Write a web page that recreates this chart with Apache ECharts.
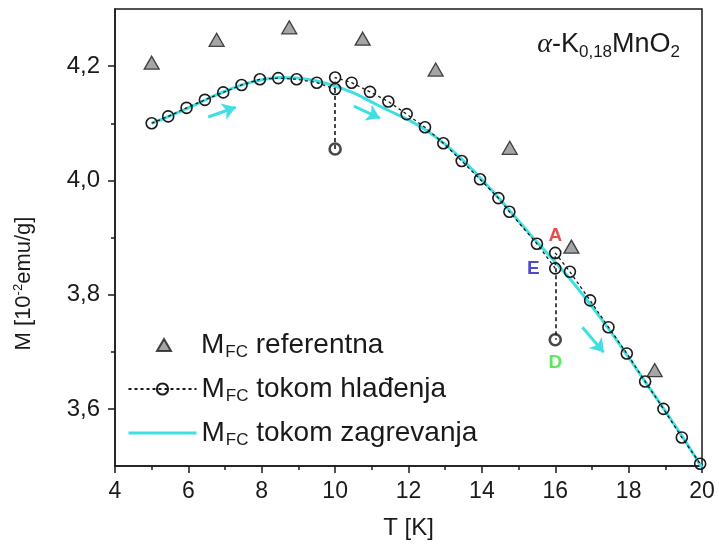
<!DOCTYPE html>
<html>
<head>
<meta charset="utf-8">
<script src="https://cdn.jsdelivr.net/npm/echarts@6/dist/echarts.min.js"></script>
<style>
  html, body { margin: 0; padding: 0; background: #fff; }
  #chart { width: 719px; height: 548px; }
</style>
</head>
<body>
<div id="chart"></div>
<script>
// Magnetization of alpha-K0.18MnO2 in field-cooled mode (M in 10^-2 emu/g, T in K)

// reference FC curve (triangles)
const refT = [5.0, 6.77, 8.75, 10.75, 12.74, 14.76, 16.44, 18.71];
const refM = [4.206, 4.246, 4.268, 4.248, 4.194, 4.057, 3.884, 3.668];

// FC measured while cooling (open circles, joined by a dotted line)
const coolT = [5.0, 5.45, 5.95, 6.45, 6.95, 7.45, 7.95, 8.45, 8.95, 9.5, 10.0, 10.0,
  10.45, 10.95, 11.45, 11.95, 12.45, 12.95, 13.45, 13.95, 14.45, 14.75, 15.5, 16.0, 16.0,
  16.4, 16.95, 17.45, 17.95, 18.45, 18.95, 19.45, 19.95];
const coolM = [4.100, 4.112, 4.127, 4.141, 4.154, 4.167, 4.177, 4.179, 4.177, 4.171, 4.160, 4.180,
  4.171, 4.155, 4.138, 4.116, 4.093, 4.065, 4.034, 4.002, 3.969, 3.945, 3.889, 3.846, 3.873,
  3.840, 3.790, 3.743, 3.697, 3.648, 3.600, 3.550, 3.504];

// FC measured while heating (cyan curve)
const heatT = [5, 5.5, 6, 6.5, 7, 7.5, 8, 8.5, 9, 9.5, 10, 10.5, 11, 11.5, 12, 12.5, 13,
  13.5, 14, 14.5, 15, 15.5, 16, 16.5, 17, 17.5, 18, 18.5, 19, 19.5, 20];
const heatM = [4.100, 4.113, 4.127, 4.142, 4.156, 4.168, 4.176, 4.180, 4.179, 4.174, 4.165,
  4.153, 4.137, 4.121, 4.106, 4.087, 4.063, 4.034, 4.001, 3.966, 3.929, 3.892, 3.857,
  3.820, 3.779, 3.736, 3.690, 3.643, 3.596, 3.548, 3.497];

// relaxation at fixed temperature: start value -> relaxed value
const relaxT = [10, 16];
const relaxFrom = [4.160, 3.846];
const relaxTo = [4.055, 3.721];

// labelled states
const stateNames = ['A', 'E', 'D'];
const stateT = [16, 16, 16];
const stateM = [3.873, 3.846, 3.721];

// direction arrows along the heating curve: [T1, M1, T2, M2]
const heatingArrows = [
  [6.54, 4.111, 7.29, 4.128],
  [10.51, 4.130, 11.22, 4.109],
  [16.74, 3.743, 17.32, 3.699]
];

// axis ticks
const yMajorTicks = [3.6, 3.8, 4.0, 4.2];
const yMinorTicks = [3.7, 3.9, 4.1];

const FONT = "'Liberation Sans', Arial, sans-serif";
const CYAN = '#3fdfe3';
const INK = '#1a1a1a';

const zip = (a, b) => a.map((v, i) => [v, b[i]]);

const chart = echarts.init(document.getElementById('chart'), null, { renderer: 'canvas' });

const stateStyle = {
  A: { position: 'top', distance: 2, color: '#e41f1f' },
  E: { position: 'left', distance: 10, color: '#1f1fc8' },
  D: { position: 'bottom', distance: 8, color: '#36e036' }
};

const legendRich = {
  m: { fontFamily: FONT, fontSize: 28, color: INK, lineHeight: 31 },
  t: { fontFamily: FONT, fontSize: 28, color: INK, lineHeight: 31 },
  s: { fontFamily: FONT, fontSize: 17, color: INK, lineHeight: 31, padding: [15, 0, 0, 1] }
};

chart.setOption({
  animation: false,
  backgroundColor: '#fff',
  title: {
    text: '{g|α}{t|-K}{s|0,18}{t|MnO}{s|2}',
    right: 34,
    top: 25,
    textStyle: {
      fontWeight: 'normal',
      rich: {
        g: { fontFamily: "'Liberation Serif', 'DejaVu Serif', serif", fontStyle: 'italic', fontWeight: 'normal', fontSize: 28, color: INK, lineHeight: 30 },
        t: { fontFamily: FONT, fontWeight: 'normal', fontSize: 27, color: INK, lineHeight: 30 },
        s: { fontFamily: FONT, fontWeight: 'normal', fontSize: 17, color: INK, lineHeight: 30, padding: [15, 0, 0, 0] }
      }
    }
  },
  grid: {
    left: 115, right: 17, top: 9, bottom: 82,
    show: true, borderColor: INK, borderWidth: 1.5, containLabel: false
  },
  legend: [{
    // triangle entry: small icon, text pushed right to line up with the others
    orient: 'vertical',
    left: 151,
    top: 324,
    itemWidth: 14,
    itemHeight: 12,
    data: [{ name: 'referentna', icon: 'triangle' }],
    formatter: name => '{m|M}{s|FC}{t| ' + name + '}',
    textStyle: {
      rich: Object.assign({}, legendRich, {
        m: Object.assign({}, legendRich.m, { padding: [0, 0, 0, 25] })
      })
    }
  }, {
    orient: 'vertical',
    left: 122,
    top: 368,
    itemWidth: 68,
    itemHeight: 14,
    itemGap: 12,
    data: ['tokom hlađenja', { name: 'tokom zagrevanja', itemStyle: { opacity: 0 }, lineStyle: { width: 3 } }],
    formatter: name => '{m|M}{s|FC}{t| ' + name + '}',
    textStyle: { rich: legendRich }
  }],
  xAxis: {
    type: 'value',
    min: 4, max: 20, interval: 2,
    name: 'T [K]',
    nameLocation: 'middle',
    nameGap: 50,
    nameTextStyle: { fontFamily: FONT, fontSize: 24, color: INK },
    axisLine: { show: true, lineStyle: { color: INK, width: 1.5 } },
    axisTick: { show: true, inside: false, length: 7, lineStyle: { color: INK, width: 1.5 } },
    minorTick: { show: true, splitNumber: 2, length: 4, lineStyle: { color: INK, width: 1.5 } },
    axisLabel: { fontFamily: FONT, fontSize: 23, color: INK, margin: 14 },
    splitLine: { show: false }
  },
  yAxis: [{
    type: 'value',
    min: 3.5, max: 4.3,
    position: 'left',
    name: '{a|M [10}{p|-2}{a|emu/g]}',
    nameLocation: 'middle',
    nameGap: 78,
    nameTextStyle: {
      padding: [0, 92, 0, 0],
      rich: {
        a: { fontFamily: FONT, fontSize: 22, color: INK, lineHeight: 26 },
        p: { fontFamily: FONT, fontSize: 13, color: INK, lineHeight: 26, padding: [0, 0, 12, 0] }
      }
    },
    axisLine: { show: true, lineStyle: { color: INK, width: 1.5 } },
    axisTick: { show: true, inside: false, length: 7, customValues: yMajorTicks, lineStyle: { color: INK, width: 1.5 } },
    axisLabel: {
      fontFamily: FONT, fontSize: 24, color: INK, margin: 15,
      customValues: yMajorTicks,
      formatter: v => v.toFixed(1).replace('.', ',')
    },
    splitLine: { show: false }
  }, {
    type: 'value',
    min: 3.5, max: 4.3,
    position: 'left',
    axisLine: { show: false },
    axisTick: { show: true, inside: false, length: 4, customValues: yMinorTicks, lineStyle: { color: INK, width: 1.5 } },
    axisLabel: { show: false },
    splitLine: { show: false }
  }],
  series: [
    {
      name: 'referentna',
      type: 'scatter',
      data: zip(refT, refM),
      symbol: 'triangle',
      symbolSize: [15, 13],
      itemStyle: { color: '#8f8f8f', borderColor: INK, borderWidth: 1.3 },
      z: 4
    },
    {
      name: 'tokom zagrevanja',
      type: 'line',
      data: zip(heatT, heatM),
      smooth: 0.4,
      showSymbol: false,
      symbol: 'none',
      lineStyle: { color: CYAN, width: 3 },
      itemStyle: { color: CYAN },
      z: 2,
      markLine: {
        silent: true,
        symbol: ['none', 'arrow'],
        symbolSize: 13,
        label: { show: false },
        itemStyle: { color: CYAN },
        lineStyle: { color: CYAN, width: 3, type: 'solid' },
        data: heatingArrows.map(a => [{ coord: [a[0], a[1]] }, { coord: [a[2], a[3]] }])
      }
    },
    {
      name: 'tokom hlađenja',
      type: 'line',
      data: zip(coolT, coolM),
      symbol: 'circle',
      symbolSize: 11,
      showAllSymbol: true,
      itemStyle: { color: 'rgba(255,255,255,0)', borderColor: INK, borderWidth: 1.6 },
      lineStyle: { color: INK, width: 1.3, type: [3, 3] },
      z: 3,
      markLine: {
        silent: true,
        symbol: ['none', 'none'],
        label: { show: false },
        lineStyle: { color: INK, width: 1.6, type: [4, 3] },
        data: relaxT.map((t, i) => [{ coord: [t, relaxFrom[i]] }, { coord: [t, relaxTo[i]] }])
      }
    },
    {
      name: 'relaksacija',
      type: 'scatter',
      data: zip(relaxT, relaxTo),
      symbol: 'circle',
      symbolSize: 11,
      itemStyle: { color: 'rgba(255,255,255,0)', borderColor: INK, borderWidth: 2.6 },
      z: 5
    },
    {
      name: 'stanja',
      type: 'scatter',
      symbolSize: 11,
      itemStyle: { color: 'rgba(0,0,0,0)' },
      data: stateNames.map((n, i) => ({
        name: n,
        value: [stateT[i], stateM[i]],
        label: {
          show: true,
          formatter: n,
          position: stateStyle[n].position,
          distance: stateStyle[n].distance,
          color: stateStyle[n].color,
          fontFamily: FONT,
          fontWeight: 'bold',
          fontSize: 19
        }
      })),
      z: 6
    }
  ]
});
</script>
</body>
</html>
